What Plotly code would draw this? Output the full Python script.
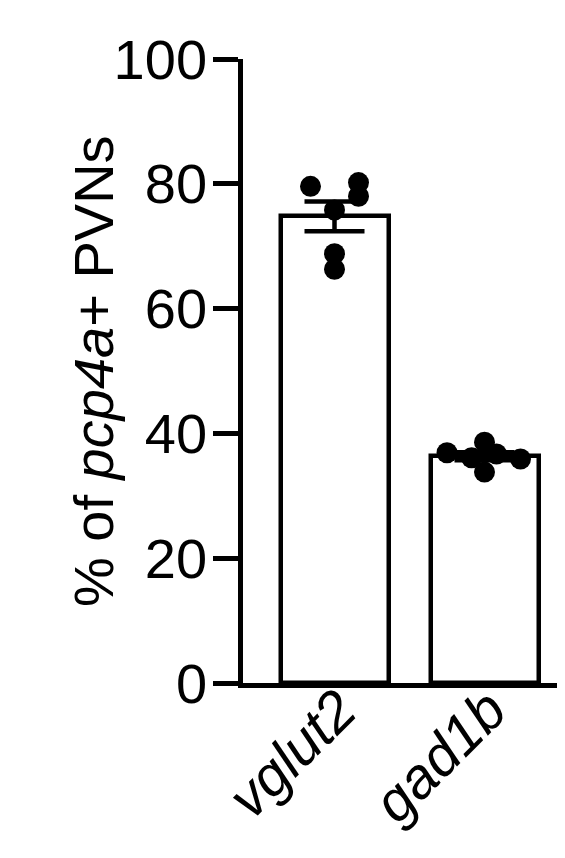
import numpy as np
import plotly.graph_objects as go

# groups and individual fish values (% of pcp4a+ PVNs)
groups = ['vglut2', 'gad1b']
vglut2_vals = [79.6, 80.2, 78.0, 75.8, 68.8, 66.3]
gad1b_vals = [36.9, 36.1, 38.6, 33.8, 36.7, 35.9]
# horizontal scatter of the dots around each bar centre
vglut2_jitter = [-0.16, 0.16, 0.16, 0.0, 0.0, 0.0]
gad1b_jitter = [-0.25, -0.086, 0.0, 0.0, 0.08, 0.24]
y_ticks = [0, 20, 40, 60, 80, 100]

FONT = 'Liberation Sans'
LW = 4.5

all_vals = [vglut2_vals, gad1b_vals]
means = [np.mean(v) for v in all_vals]
sems = [np.std(v, ddof=1) / np.sqrt(len(v)) for v in all_vals]

fig = go.Figure()

# bars with SEM
fig.add_trace(go.Bar(
    x=[0, 1], y=means, width=0.72,
    marker=dict(color='white', line=dict(color='black', width=LW)),
    error_y=dict(type='data', array=sems, visible=True,
                 color='black', thickness=LW, width=30),
    showlegend=False))

# individual points
for i, (vals, jit) in enumerate(zip(all_vals, [vglut2_jitter, gad1b_jitter])):
    fig.add_trace(go.Scatter(
        x=[i + j for j in jit], y=vals, mode='markers',
        marker=dict(color='black', size=21),
        showlegend=False))

# page body has a small margin, so margins are trimmed to compensate
fig.update_layout(
    width=565, height=858,
    margin=dict(l=235, r=0, t=51, b=183),
    plot_bgcolor='white', paper_bgcolor='white',
    font=dict(family=FONT, size=56, color='black'),
    bargap=0,
)

fig.update_xaxes(
    range=[-0.61, 1.59], tickvals=[0, 1], ticktext=groups,
    tickangle=-45, tickfont=dict(size=57, style='italic'),
    ticklabelstandoff=-34, ticklabelshift=5,
    showline=True, linecolor='black', linewidth=LW,
    ticks='', showgrid=False, zeroline=False)

fig.update_yaxes(
    range=[0, 100], tickvals=y_ticks,
    showline=True, linecolor='black', linewidth=LW,
    ticks='outside', ticklen=25, tickwidth=LW, tickcolor='black',
    tickfont=dict(size=56), ticklabelstandoff=-5,
    showgrid=False, zeroline=False)

fig.add_annotation(
    text='% of <i>pcp4a</i>+ PVNs', textangle=-90,
    xref='paper', yref='paper', x=0, y=0.5,
    xanchor='center', yanchor='middle', xshift=-150,
    showarrow=False, font=dict(size=56))

fig.write_html("out.html")
